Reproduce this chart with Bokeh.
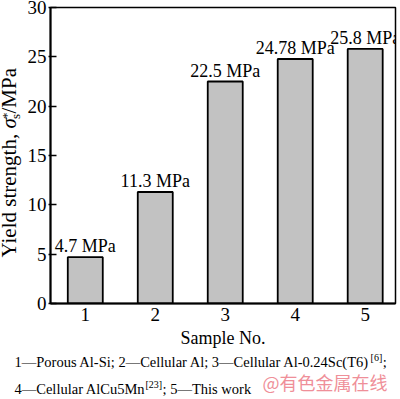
import math
from bokeh.plotting import figure
from bokeh.layouts import column, row
from bokeh.models import ColumnDataSource, Range1d, FixedTicker
from bokeh.core.properties import value
from bokeh.embed import file_html
from bokeh.resources import INLINE

# ---- data ----
samples = [1, 2, 3, 4, 5]
yield_strength = [4.7, 11.3, 22.5, 24.78, 25.8]
value_labels = ["4.7 MPa", "11.3 MPa", "22.5 MPa", "24.78 MPa", "25.8 MPa"]
y_ticks = [0, 5, 10, 15, 20, 25, 30]
x_label = "Sample No."
y_label_parts = ["Yield strength, ", "\u03c3", "s", "*", "/MPa"]
footnote_1 = ["1\u2014Porous Al-Si; 2\u2014Cellular Al; 3\u2014Cellular Al-0.24Sc(T6)", "[6]", ";"]
footnote_2 = ["4\u2014Cellular AlCu5Mn", "[23]", "; 5\u2014This work"]
watermark = "@有色金属在线"

# ---- layout (pixels) ----
W, H = 400, 399
YLAB_W = 24
FL, FR, FT, FB = 48, 395, 7, 303
TOP_H = 352
X0, X1 = 0.503, 5.433
SERIF = "Liberation Serif"
DESC = 0.25    # descent below baseline, as a fraction of the font size
ROT_SHIFT = 18  # along-axis shift seen for rotated "bottom"-anchored text (px)

# Times-compatible advance widths (per 1000 em) for placing text pieces
AFM = {" ": 250, ",": 250, ".": 250, "/": 278, "-": 333, ";": 278, "*": 500,
       "[": 333, "]": 333, "(": 333, ")": 333, "\u2014": 1000,
       "A": 722, "C": 667, "M": 889, "N": 722, "P": 556, "S": 556, "T": 611, "Y": 722,
       "a": 444, "c": 444, "d": 500, "e": 444, "g": 500, "h": 500, "i": 278, "k": 500,
       "l": 278, "m": 778, "n": 500, "o": 500, "p": 500, "r": 333, "s": 389, "t": 278,
       "u": 500, "w": 722, "y": 500, "\u03c3": 520}


def tw(text, size):
    return sum(AFM.get(ch, 500) for ch in text) * size / 1000.0


def text_fig(w, h):
    f = figure(width=w, height=h, x_range=Range1d(0, w), y_range=Range1d(0, h),
               x_axis_type=None, y_axis_type=None, output_backend="svg",
               toolbar_location=None, min_border=0)
    f.outline_line_color = None
    f.background_fill_color = "white"
    f.border_fill_color = "white"
    return f


# ---- main chart ----
p = figure(width=W - YLAB_W, height=TOP_H, x_range=Range1d(X0, X1), y_range=Range1d(0, 30),
           output_backend="svg", toolbar_location=None,
           min_border_left=FL - YLAB_W, min_border_right=W - FR,
           min_border_top=FT, min_border_bottom=TOP_H - FB)
p.background_fill_color = "white"
p.border_fill_color = "white"
p.outline_line_color = "black"
p.outline_line_width = 1.5
p.xgrid.visible = False
p.ygrid.visible = False

src = ColumnDataSource(dict(x=samples, y=yield_strength, lab=value_labels))
p.vbar(x="x", top="y", width=0.5, bottom=0, source=src,
       fill_color="#c2c2c2", line_color="black", line_width=1.8)
p.text(x="x", y="y", text="lab", source=src, text_align="center",
       text_baseline="bottom", y_offset=-1,
       text_font=value(SERIF), text_font_size="18px", text_color="black")

p.xaxis.ticker = FixedTicker(ticks=samples)
p.yaxis.ticker = FixedTicker(ticks=y_ticks)
for ax in (p.xaxis[0], p.yaxis[0]):
    ax.axis_line_color = "black"
    ax.axis_line_width = 2
    ax.major_tick_line_color = "black"
    ax.major_tick_line_width = 1.5
    ax.minor_tick_line_color = None
    ax.major_label_text_font = SERIF
    ax.major_label_text_font_size = "19px"
    ax.major_label_text_color = "black"
p.yaxis.major_tick_in = 6
p.yaxis.major_tick_out = 2
p.yaxis.major_label_standoff = 2
p.xaxis.major_tick_in = 0
p.xaxis.major_tick_out = 0
p.xaxis.major_label_standoff = 4
p.xaxis.axis_label = x_label
p.xaxis.axis_label_text_font = SERIF
p.xaxis.axis_label_text_font_size = "18px"
p.xaxis.axis_label_text_font_style = "normal"
p.xaxis.axis_label_text_color = "black"
p.xaxis.axis_label_standoff = 4

# ---- y axis title (rotated pieces) ----
ylab = text_fig(YLAB_W, TOP_H)
fs, ss = 21, 13
bx = 15          # baseline x (page pixels)
joint = 126      # page y where "Yield strength, " ends and sigma begins (as seen)
y_sub = joint - tw(y_label_parts[1], fs) - 0.5
y_rest = y_sub - tw("s", ss) - 1.5
specs = [
    (y_label_parts[0], bx, joint, fs, "normal", "right"),
    (y_label_parts[1], bx, joint, fs, "italic", "left"),
    (y_label_parts[2], bx + 4, y_sub, ss, "normal", "left"),
    (y_label_parts[3], bx - 5, y_sub, ss, "normal", "left"),
    (y_label_parts[4], bx, y_rest, fs, "normal", "left"),
]
for t, base_x, py, size, style, align in specs:
    ylab.text(x=[base_x + DESC * size], y=[TOP_H - (py + ROT_SHIFT)], text=[t],
              angle=math.pi / 2, text_align=align, text_baseline="bottom",
              text_font=value(SERIF), text_font_size=f"{size}px",
              text_font_style=style, text_color="black")

# ---- footnotes ----
FOOT_H = H - TOP_H
foot = text_fig(W, FOOT_H)
fn, sup = 14.5, 10


def foot_line(parts, x_start, base_page):
    x = x_start
    for i, t in enumerate(parts):
        is_sup = (i == 1)
        size = sup if is_sup else fn
        base = base_page - (6 if is_sup else 0)
        foot.text(x=[x], y=[H - base - DESC * size], text=[t],
                  text_align="left", text_baseline="bottom",
                  text_font=value(SERIF), text_font_size=f"{size}px",
                  text_color="black")
        x += tw(t, size) + (0.5 if is_sup else 0)


foot_line(footnote_1, 14, 366)
foot_line(footnote_2, 14, 393)
foot.text(x=[262], y=[H - 391 - 3], text=[watermark], text_align="left",
          text_baseline="bottom", text_font=value("Noto Sans CJK SC"),
          text_font_size="18px", text_color="#ef8f99")

root = column(row(ylab, p, spacing=0), foot, spacing=0)

open("out.html", "w").write(file_html(root, INLINE))
